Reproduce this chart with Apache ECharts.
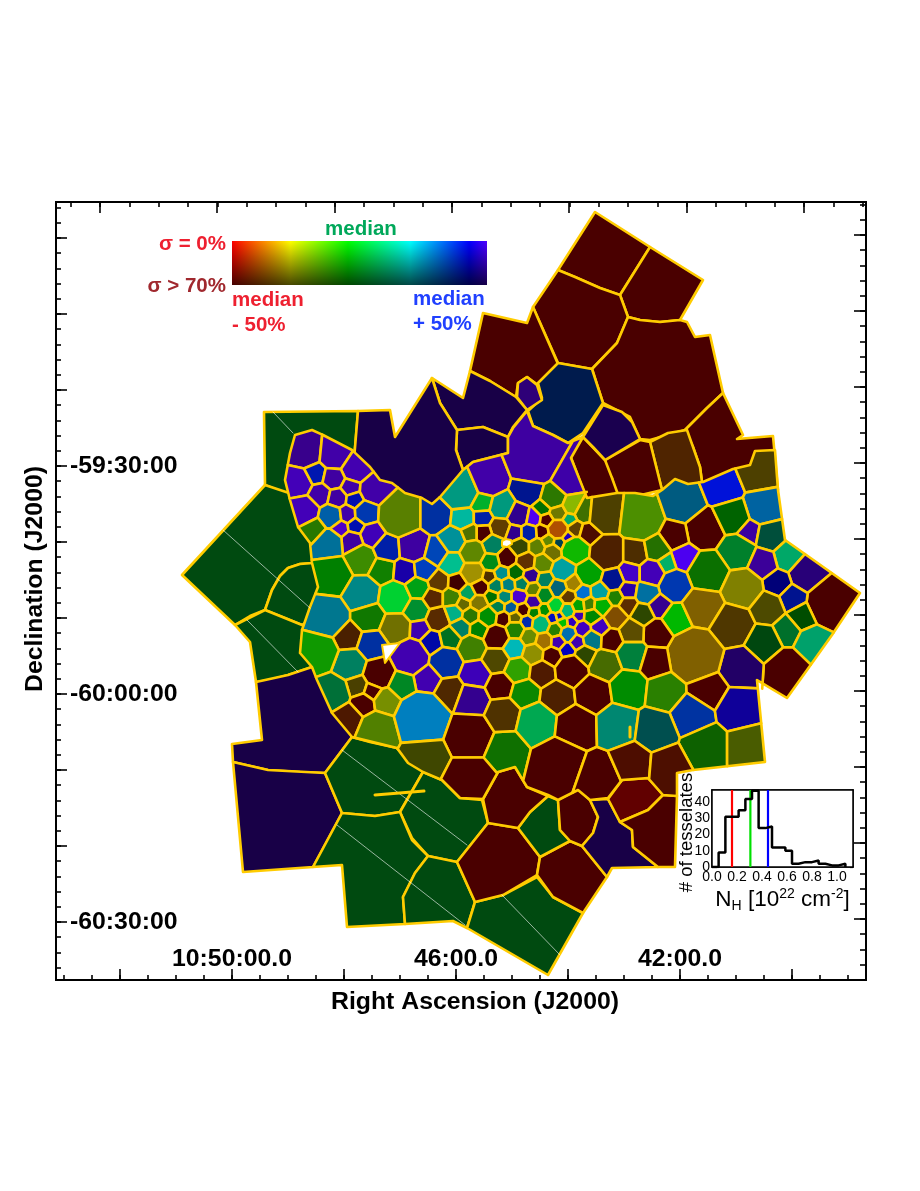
<!DOCTYPE html>
<html><head><meta charset="utf-8">
<style>html,body{margin:0;padding:0;background:#fff}#c{width:920px;height:1191px}</style>
<script src="https://cdn.jsdelivr.net/npm/echarts@6/dist/echarts.min.js"></script>
</head><body><div id="c"></div>
<script>
// Plate coordinates of the sky map. Cell: [x, y, size, NH hue position, brightness (1 - sigma)]
const outerCells = [
 [[[264,412],[358,411],[354,460],[320,490],[287,494],[265,485]],133,.29],
 [[[265,485],[295,495],[320,560],[313,563],[300,564],[288,568],[280,576],[272,590],[265,610],[250,616],[235,625],[182,575]],133,.29],
 [[[320,560],[313,563],[300,564],[288,568],[280,576],[272,590],[265,610],[285,618],[302,625],[325,610]],133,.29],
 [[[235,625],[265,610],[302,625],[325,640],[325,660],[312,667],[288,675],[270,680],[256,682],[250,642]],133,.29],
 [[[256,682],[288,675],[312,667],[335,700],[352,737],[325,773],[300,772],[268,770],[233,762],[232,744],[262,740]],260,.28],
 [[[233,762],[268,770],[325,773],[342,813],[313,867],[243,872]],260,.28],
 [[[352,737],[325,773],[342,813],[375,816],[400,812],[423,772],[397,748],[370,742]],133,.29],
 [[[423,772],[400,812],[412,838],[428,856],[457,862],[488,823],[482,800],[460,798],[442,780]],133,.29],
 [[[342,813],[375,816],[400,812],[412,840],[428,856],[415,873],[403,897],[405,924],[347,927],[342,865],[313,867]],133,.29],
 [[[428,856],[457,862],[475,902],[467,928],[453,921],[405,924],[403,897],[415,873]],133,.29],
 [[[475,902],[503,895],[537,877],[553,897],[583,913],[548,975],[467,928]],133,.29],
 [[[488,823],[518,828],[540,857],[537,875],[503,895],[475,902],[457,862]],0,.29],
 [[[540,857],[570,841],[582,846],[607,877],[583,913],[553,897],[537,875]],0,.29],
 [[[548,796],[558,800],[560,830],[570,841],[540,857],[518,828],[530,812]],133,.29],
 [[[483,799],[488,823],[518,828],[530,812],[548,796],[527,787],[515,767],[498,772]],0,.29],
 [[[558,800],[578,789],[590,800],[598,817],[593,833],[582,846],[570,841],[560,830]],0,.29],
 [[[590,800],[608,799],[620,822],[632,830],[633,847],[658,867],[612,868],[607,877],[582,846],[593,833],[598,817]],260,.28],
 [[[608,799],[622,780],[648,778],[663,795],[648,810],[620,822]],0,.38],
 [[[663,795],[677,796],[675,867],[658,867],[633,847],[632,830],[620,822],[648,810]],0,.29],
 [[[595,212],[650,247],[620,295],[600,288],[575,277],[558,270]],0,.29],
 [[[650,247],[703,280],[680,320],[660,322],[640,320],[628,317],[620,295]],0,.29],
 [[[558,270],[575,277],[600,288],[620,295],[628,317],[617,343],[592,369],[558,363],[533,307]],0,.29],
 [[[483,313],[527,323],[533,307],[558,364],[538,385],[527,377],[518,383],[516,397],[490,381],[470,371]],0,.29],
 [[[628,317],[640,320],[660,322],[680,320],[687,322],[695,337],[710,335],[723,393],[707,408],[685,430],[650,440],[640,439],[630,417],[603,403],[592,369],[617,343]],0,.29],
 [[[723,393],[743,435],[737,439],[773,436],[778,490],[703,490],[700,467],[693,447],[685,430],[707,408]],0,.29],
 [[[650,442],[668,433],[687,430],[693,447],[700,467],[703,490],[675,490],[662,490]],27,.31],
 [[[605,460],[640,440],[650,442],[662,490],[620,500],[615,490],[612,478],[607,472]],0,.29],
 [[[583,437],[605,460],[612,478],[620,500],[587,500],[570,455]],0,.29],
 [[[603,405],[622,412],[632,422],[640,439],[605,460],[593,447],[583,437]],260,.31],
 [[[558,363],[592,369],[603,403],[583,433],[568,443],[553,435],[533,426],[528,411],[542,398],[538,383]],219,.3],
 [[[518,383],[527,377],[537,385],[542,400],[527,410],[517,397]],263,.47],
 [[[432,378],[463,398],[470,371],[490,381],[516,397],[527,410],[513,427],[508,437],[483,427],[457,430],[440,403]],260,.28],
 [[[457,430],[483,427],[508,437],[508,453],[473,462],[463,470],[456,450]],260,.28],
 [[[358,411],[390,410],[395,437],[432,378],[440,403],[457,430],[456,450],[463,470],[435,510],[400,500],[360,470],[354,460]],260,.28]
];
const innerHull = [[285,480],[290,453],[295,435],[312,430],[323,435],[352,450],[370,467],[380,480],[392,483],[405,493],[422,498],[432,504],[440,497],[463,470],[473,462],[508,453],[508,437],[513,428],[527,411],[533,426],[553,435],[568,443],[583,437],[571,458],[587,498],[617,493],[635,493],[653,496],[662,490],[675,479],[688,484],[703,482],[733,469],[750,465],[755,451],[775,450],[778,490],[785,540],[860,593],[832,635],[787,698],[757,680],[765,762],[693,770],[677,773],[677,796],[663,795],[648,778],[622,780],[608,798],[590,800],[578,790],[558,800],[548,795],[527,787],[515,767],[498,772],[483,799],[460,798],[442,780],[423,772],[408,763],[397,748],[352,737],[332,713],[317,680],[312,667],[300,653],[302,630],[310,607],[318,587],[312,563],[310,543],[298,527],[290,500]];
const nwCells = [
[305,450,17,264,.55],[335,453,16,263,.66],[356,467,14,263,.69],[298,483,14,262,.72],[315,474,10,232,.69],[333,478,10,264,.63],[319,494,10,263,.66],[350,487,7,263,.66],[337,498,8,264,.63],[354,500,6,235,.69],[375,489,13,263,.66],[303,510,14,262,.72],[331,516,10,206,.66],[347,514,7,263,.66],[366,513,10,221,.69],[340,528,6,264,.78],[356,526,6,235,.69],[372,535,10,261,.72],[352,542,9,263,.63],[313,530,10,100,.47],[328,544,13,196,.6],[361,559,13,94,.55],[332,575,17,120,.5],[362,593,15,180,.53],[382,570,10,112,.5],[387,548,11,229,.66],[413,546,13,263,.63],[400,515,20,78,.5],[435,515,14,222,.63],[405,572,9,249,.66],[424,570,8,220,.75],[436,552,9,217,.72],[453,540,10,183,.6],[463,518,9,172,.72],[460,490,18,170,.6],[452,563,8,165,.75]];
const swCells = [
[327,617,18,190,.56],[395,598,14,134,.82],[369,617,12,112,.47],[417,588,9,128,.63],[416,610,10,140,.56],[348,637,10,26,.29],[396,628,13,60,.44],[419,629,7,261,.69],[372,645,12,222,.63],[438,619,9,29,.35],[433,598,7,26,.35],[452,598,6,90,.5],[438,582,6,35,.38],[458,583,5,0,.25],[454,613,6,166,.69],[463,604,4,62,.41],[468,593,5,156,.63],[479,603,6,56,.5],[471,616,6,98,.47],[461,628,7,168,.5],[479,629,7,120,.5],[432,642,8,237,.66],[450,638,8,137,.44],[472,648,11,90,.5],[350,664,13,165,.5],[410,657,16,262,.69],[446,662,13,222,.63],[476,674,12,260,.72],[379,673,13,0,.29],[318,652,17,114,.6],[427,679,10,262,.69],[402,684,10,136,.53],[450,692,11,30,.31],[357,686,7,52,.29],[372,691,5,0,.29],[363,704,8,0,.29],[386,701,9,70,.56],[333,693,14,150,.44],[348,718,11,19,.3],[377,730,16,82,.5],[422,718,24,200,.75],[472,700,14,262,.56],[470,735,20,0,.29],[425,757,17,67,.28],[505,750,15,112,.44],[470,780,20,0,.29]];
const centreCells = [
[488,478,17,263,.66],[533,460,24,263,.63],[528,490,13,231,.56],[568,480,13,262,.66],[553,497,11,98,.47],[482,502,9,135,.69],[502,507,11,169,.6],[483,518,7,229,.66],[518,515,10,260,.56],[543,508,6,120,.44],[558,513,7,65,.47],[572,505,8,75,.72],[585,512,9,86,.44],[533,518,6,260,.94],[547,520,5,0,.31],[569,520,5,157,.66],[500,528,9,38,.38],[484,533,7,0,.29],[470,533,6,78,.44],[514,533,7,260,.56],[529,533,7,229,.66],[542,532,5,0,.29],[558,529,9,27,.69],[575,529,6,40,.38],[589,533,8,9,.3],[493,544,9,165,.5],[520,547,8,72,.28],[537,547,7,75,.5],[548,541,5,77,.53],[559,543,4,190,.31],[568,537,4,250,.75],[552,552,7,60,.44],[575,550,12,115,.72],[473,552,10,78,.53],[507,558,8,0,.29],[526,561,8,30,.38],[491,562,7,130,.55],[543,563,8,78,.53],[563,570,10,180,.63],[589,573,11,120,.63],[473,573,9,54,.63],[489,577,4,36,.31],[502,573,5,180,.56],[516,572,6,120,.41],[531,576,6,260,.56],[545,580,6,165,.5],[573,583,6,48,.63],[600,592,7,180,.63],[583,593,5,208,.82],[558,588,7,190,.47],[480,587,6,0,.29],[496,586,5,165,.5],[508,585,5,180,.5],[522,584,5,165,.5],[533,589,5,75,.5],[545,595,6,135,.53],[568,597,5,35,.38],[492,597,4,120,.44],[505,597,5,173,.53],[519,597,6,262,.82],[533,602,5,263,.63],
[498,607,5,157,.5],[511,608,5,205,.6],[523,610,5,0,.29],[534,613,4,120,.5],[545,611,4,120,.56],[556,606,6,134,.82],[567,611,6,158,.72],[579,606,5,120,.63],[589,605,5,90,.5],[602,606,7,120,.69],[488,617,8,120,.56],[503,619,6,0,.29],[515,618,5,60,.38],[527,622,5,226,.69],[541,624,8,159,.72],[552,618,4,236,.75],[560,616,3,236,.75],[563,623,4,120,.75],[572,622,4,255,.75],[579,616,4,262,.69],[592,617,7,120,.53],[583,629,7,260,.75],[599,627,7,260,.75],[515,630,8,105,.5],[529,637,7,75,.55],[497,637,11,0,.29],[555,630,6,100,.5],[568,634,7,202,.69],[544,641,7,42,.63],[558,642,6,262,.69],[577,642,6,262,.69],[592,639,8,187,.53],[514,648,9,180,.72],[533,654,9,60,.56],[567,650,6,240,.75],[552,656,8,0,.29],[585,655,8,82,.28],[496,660,11,55,.31],[518,670,11,102,.63],[542,673,11,20,.31],[571,670,14,0,.29],[605,665,13,80,.42],[500,686,11,0,.29],[525,693,12,115,.53],[557,697,14,25,.3],[593,693,15,0,.29],[503,714,14,38,.31],[537,722,17,149,.66],[575,726,17,0,.29],[558,763,22,0,.29],[598,777,17,0,.29]];
const eastCells = [
[606,514,17,50,.3],[640,518,20,88,.56],[683,503,17,197,.5],[723,487,15,235,.85],[757,473,15,50,.3],[763,507,15,203,.63],[705,530,17,0,.29],[732,517,15,120,.39],[675,536,11,0,.29],[749,532,9,262,.63],[770,536,12,165,.31],[607,553,15,25,.3],[635,553,10,35,.3],[657,549,10,100,.44],[685,558,11,259,.94],[667,564,7,155,.69],[630,573,8,260,.78],[613,580,9,232,.56],[652,573,11,262,.72],[737,552,16,140,.5],[708,572,19,114,.44],[788,556,11,157,.66],[762,563,12,263,.6],[807,573,14,260,.47],[777,583,9,240,.47],[675,585,14,221,.69],[628,590,6,255,.66],[615,597,5,105,.5],[647,593,9,198,.63],[742,588,18,60,.5],[832,603,22,0,.29],[792,598,8,232,.56],[628,605,5,29,.36],[659,606,8,263,.56],[643,614,8,82,.28],[615,617,8,36,.5],[677,619,12,120,.72],[703,607,18,45,.5],[732,625,19,42,.31],[767,608,13,58,.3],[802,617,9,120,.3],[787,630,9,143,.44],[763,642,14,133,.28],[813,643,13,160,.63],[787,670,17,0,.29],[740,667,17,260,.4],[695,655,25,45,.5],[657,633,11,0,.29],[632,632,9,50,.36],[611,640,8,0,.29],[632,655,12,148,.5],[655,662,12,0,.29],[628,688,15,120,.55],[665,692,15,100,.5],[708,690,15,0,.29],[692,715,17,221,.63],[738,708,17,246,.6],[618,725,17,170,.53],[655,730,17,180,.31],[705,745,17,112,.38],[747,745,14,72,.36],[632,762,15,10,.3],[668,765,14,12,.3]];
const holes = [[[382,645],[400,643],[385,663]],[[502,541],[506,539],[511,540],[512,544],[507,547],[502,546]]];
const gapLines = [[[273,412],[293,433]],[[223,530],[310,608]],[[247,620],[298,672]],[[342,750],[467,845]],[[337,825],[465,925]],[[502,895],[560,955]]];
const streaks = [[[375,795],[424,791]],[[630,727],[630,737]]];

const raBottomTicks = [120,232,344,456,568,680,792];
const raBottomLabels = {232:'10:50:00.0',456:'46:00.0',680:'42:00.0'};
const raTopTicks = [100,217,335,452,569,687,804];
const decLeftTicks = [238,314,390,466,542,618,694,770,846,922];
const decLeftLabels = {466:'-59:30:00',694:'-60:00:00',922:'-60:30:00'};
const decRightTicks = [235,311,387,463,539,615,691,767,843,919];

const histEdges  = [0,.053,.107,.16,.213,.267,.32,.373,.427,.48,.533,.587,.64,.693,.747,.8,.853,.907,.96,1.013,1.067];
const histCounts = [0,9,31,31,35,42,47,24,25,12,12,10,2,3,3,4,2,1,1,2,0];
const nhLow = .16, nhMedian = .307, nhHigh = .448;

const FONT = '"Liberation Sans", Helvetica, Arial, sans-serif';
const GOLD = '#ffcc00';

function hsv(h, v) {
  h = h / 60; const i = Math.floor(h), f = h - i;
  const q = v * (1 - f), t = v * f;
  const rgb = [[v,t,0],[q,v,0],[0,v,t],[0,q,v],[t,0,v],[v,0,q]][i % 6];
  return 'rgb(' + rgb.map(c => Math.round(c * 255)).join(',') + ')';
}
function clipPlane(poly, nx, ny, c) {
  const out = [];
  for (let i = 0; i < poly.length; i++) {
    const p = poly[i], q = poly[(i + 1) % poly.length];
    const dp = nx * p[0] + ny * p[1] - c, dq = nx * q[0] + ny * q[1] - c;
    if (dp <= 0) out.push(p);
    if ((dp < 0 && dq > 0) || (dp > 0 && dq < 0)) {
      const t = dp / (dp - dq);
      out.push([p[0] + t * (q[0] - p[0]), p[1] + t * (q[1] - p[1])]);
    }
  }
  return out;
}
const seeds = [].concat(nwCells, swCells, centreCells, eastCells);
const innerPolys = seeds.map((a, i) => {
  let poly = innerHull;
  seeds.forEach((b, j) => {
    if (i === j || !poly.length) return;
    const nx = 2 * (b[0] - a[0]), ny = 2 * (b[1] - a[1]);
    const c = b[0]*b[0] + b[1]*b[1] - b[2]*b[2] - a[0]*a[0] - a[1]*a[1] + a[2]*a[2];
    poly = clipPlane(poly, nx, ny, c);
  });
  return { poly, fill: hsv(a[3], a[4]) };
});
const outerPolys = outerCells.map(c => ({ poly: c[0], fill: hsv(c[1], c[2]) }));

function polySeries(list, stroke, lw, z) {
  return { type: 'custom', coordinateSystem: 'cartesian2d', xAxisIndex: 0, yAxisIndex: 0, silent: true,
    clip: false, z, progressive: 0, animation: false, encode: { x: 0, y: 1 },
    data: list.map((c, i) => [c.poly.length ? c.poly[0][0] : 0, c.poly.length ? c.poly[0][1] : 0, i]),
    renderItem(params, api) {
      const c = list[api.value(2)];
      return { type: 'polygon', shape: { points: c.poly.map(p => api.coord(p)) },
        style: { fill: c.fill, stroke, lineWidth: lw, lineJoin: 'round' } };
    } };
}
function lineSeries(list, color, lw, z) {
  return { type: 'custom', coordinateSystem: 'cartesian2d', xAxisIndex: 0, yAxisIndex: 0, silent: true,
    clip: false, z, progressive: 0, animation: false, encode: { x: 0, y: 1 },
    data: list.map((l, i) => [l[0][0], l[0][1], i]),
    renderItem(params, api) {
      const l = list[api.value(2)];
      const a = api.coord(l[0]), b = api.coord(l[1]);
      return { type: 'line', shape: { x1: a[0], y1: a[1], x2: b[0], y2: b[1] },
        style: { stroke: color, lineWidth: lw, lineCap: 'round' } };
    } };
}
function minors(majors, step, lo, hi) {
  const out = [], m0 = majors[0];
  for (let v = m0 - Math.floor((m0 - lo) / step) * step; v <= hi; v += step) out.push(+v.toFixed(2));
  return out;
}
const black = { color: '#000', width: 1.6 };
function mainAxis(pos, dim, ticks, len, extra) {
  const range = dim === 'x' ? { min: 56, max: 866 } : { min: 202, max: 980, inverse: true };
  return Object.assign({ type: 'value', gridIndex: 0, position: pos, ...range,
    axisLine: { show: true, onZero: false, lineStyle: { color: '#000', width: 2 } },
    axisTick: { show: true, inside: true, length: len, customValues: ticks, lineStyle: black },
    axisLabel: { show: false }, splitLine: { show: false } }, extra || {});
}
const xAxes = [
  mainAxis('bottom', 'x', raBottomTicks, 11, {
    name: 'Right Ascension (J2000)', nameLocation: 'middle', nameGap: 10, nameMoveOverlap: false,
    nameTextStyle: { fontFamily: FONT, fontWeight: 'bold', fontSize: 24.8, color: '#000', padding: [0, 0, 0, 28] },
    axisLabel: { show: true, inside: true, margin: 8, customValues: Object.keys(raBottomLabels).map(Number),
      formatter: v => raBottomLabels[v] || '', fontFamily: FONT, fontWeight: 'bold', fontSize: 24.8, color: '#000' } }),
  mainAxis('bottom', 'x', minors(raBottomTicks, 28, 57, 865), 5),
  mainAxis('top', 'x', raTopTicks, 11),
  mainAxis('top', 'x', minors(raTopTicks, 29.33, 57, 865), 5)
];
const yAxes = [
  mainAxis('left', 'y', decLeftTicks, 11, {
    name: 'Declination (J2000)', nameLocation: 'middle', nameGap: 8, nameRotate: 90, nameMoveOverlap: false,
    nameTextStyle: { fontFamily: FONT, fontWeight: 'bold', fontSize: 24.8, color: '#000', padding: [0, 0, 0, 24] },
    axisLabel: { show: true, inside: true, margin: 14, padding: [4, 0, 0, 0], customValues: Object.keys(decLeftLabels).map(Number),
      formatter: v => decLeftLabels[v] || '', fontFamily: FONT, fontWeight: 'bold', fontSize: 24.8, color: '#000' } }),
  mainAxis('left', 'y', minors(decLeftTicks, 15.2, 203, 979), 5),
  mainAxis('right', 'y', decRightTicks, 12),
  mainAxis('right', 'y', minors(decRightTicks, 15.2, 203, 979), 6)
];
// inset histogram axes
const insetLabelStyle = { show: true, fontFamily: FONT, fontSize: 14, color: '#000' };
const nhTicks = [0,.2,.4,.6,.8,1];
const countTicks = [0,10,20,30,40];
const thin = { color: '#000', width: 1.2 };
xAxes.push({ type: 'value', gridIndex: 1, position: 'top', min: 0, max: 1.128,
  axisLine: { show: true, onZero: false, lineStyle: black },
  axisTick: { show: true, inside: true, length: 3, customValues: nhTicks, lineStyle: thin },
  axisLabel: { show: false }, splitLine: { show: false } });
yAxes.push({ type: 'value', gridIndex: 1, position: 'right', min: 0, max: 47.5,
  axisLine: { show: true, onZero: false, lineStyle: black },
  axisTick: { show: true, inside: true, length: 3, customValues: countTicks, lineStyle: thin },
  axisLabel: { show: false }, splitLine: { show: false } });
xAxes.push({ type: 'value', gridIndex: 1, position: 'bottom', min: 0, max: 1.128,
  name: 'N{sub|H} [10{sup|22} cm{sup|-2}]', nameLocation: 'middle', nameGap: 20, nameMoveOverlap: false,
  nameTextStyle: { fontFamily: FONT, fontSize: 22.5, color: '#000',
    rich: { sub: { fontFamily: FONT, fontSize: 14, color: '#000', verticalAlign: 'bottom', lineHeight: 26 },
            sup: { fontFamily: FONT, fontSize: 14, color: '#000', verticalAlign: 'top', lineHeight: 26 } } },
  axisLine: { show: true, onZero: false, lineStyle: black },
  axisTick: { show: true, inside: true, length: 5, customValues: nhTicks, lineStyle: thin },
  axisLabel: { ...insetLabelStyle, margin: 3, customValues: nhTicks, formatter: v => v.toFixed(1) },
  splitLine: { show: false } });
yAxes.push({ type: 'value', gridIndex: 1, position: 'left', min: 0, max: 47.5,
  name: '# of tesselates', nameLocation: 'middle', nameGap: 16, nameRotate: 90, nameMoveOverlap: false,
  nameTextStyle: { fontFamily: FONT, fontSize: 18.5, color: '#000', padding: [0, 8, 0, 0] },
  axisLine: { show: true, onZero: false, lineStyle: black },
  axisTick: { show: true, inside: true, length: 5, customValues: countTicks, lineStyle: thin },
  axisLabel: { ...insetLabelStyle, margin: 2, customValues: countTicks, formatter: v => String(v) },
  splitLine: { show: false } });
const ix = xAxes.length - 1, iy = yAxes.length - 1;
function vline(v, color) {
  return { type: 'line', xAxisIndex: ix, yAxisIndex: iy, silent: true, symbol: 'none', animation: false, z: 4,
    lineStyle: { color, width: 2.2 }, data: [[v, 0], [v, 47.5]] };
}
function legendText(text, x, y, fill, align) {
  return { type: 'text', x, y, z: 20, style: { text, fill, font: 'bold 20.5px ' + FONT, textAlign: align || 'left', textVerticalAlign: 'middle' } };
}
const chart = echarts.init(document.getElementById('c'), null, { renderer: 'canvas', width: 920, height: 1191 });
chart.setOption({
  animation: false, backgroundColor: '#fff',
  grid: [
    { left: 56, top: 202, width: 810, height: 778, show: false },
    { left: 712, top: 790, width: 141, height: 77, show: true, backgroundColor: '#fff', borderColor: '#000', borderWidth: 1.5, z: 3 }
  ],
  xAxis: xAxes, yAxis: yAxes,
  series: [
    polySeries(outerPolys, GOLD, 2.6, 2),
    polySeries(innerPolys, GOLD, 2.6, 3),
    polySeries(holes.map(p => ({ poly: p, fill: '#fff' })), GOLD, 2, 4),
    lineSeries(gapLines, 'rgba(255,255,255,0.75)', 0.8, 5),
    lineSeries(streaks, GOLD, 3, 6),
    { type: 'line', xAxisIndex: ix, yAxisIndex: iy, step: 'end', silent: true, symbol: 'none', animation: false, z: 5, clip: true,
      lineStyle: { color: '#000', width: 2.5 }, data: histEdges.map((e, i) => [e, histCounts[i]]) },
    vline(nhLow, '#ff0000'), vline(nhMedian, '#00e000'), vline(nhHigh, '#0000ff')
  ],
  graphic: [
    { type: 'rect', z: 10, shape: { x: 232, y: 241, width: 255, height: 44 },
      style: { fill: new echarts.graphic.LinearGradient(0, 0, 1, 0, [
        { offset: 0, color: '#ff0000' }, { offset: .23, color: '#ffff00' }, { offset: .455, color: '#00ff00' },
        { offset: .7, color: '#00ffff' }, { offset: .93, color: '#0000ff' }, { offset: 1, color: '#5000ff' }]) } },
    { type: 'rect', z: 11, shape: { x: 232, y: 241, width: 255, height: 44 },
      style: { fill: new echarts.graphic.LinearGradient(0, 0, 0, 1, [
        { offset: 0, color: 'rgba(0,0,0,0)' }, { offset: 1, color: 'rgba(0,0,0,0.72)' }]) } },
    legendText('median', 361, 229, '#00a85a', 'center'),
    legendText('σ = 0%', 226, 244, '#ee2030', 'right'),
    legendText('σ > 70%', 226, 286, '#a0282e', 'right'),
    legendText('median', 232, 300, '#ee2030'),
    legendText('- 50%', 232, 325, '#ee2030'),
    legendText('median', 413, 299, '#2040ff'),
    legendText('+ 50%', 413, 324, '#2040ff')
  ]
});
</script></body></html>
